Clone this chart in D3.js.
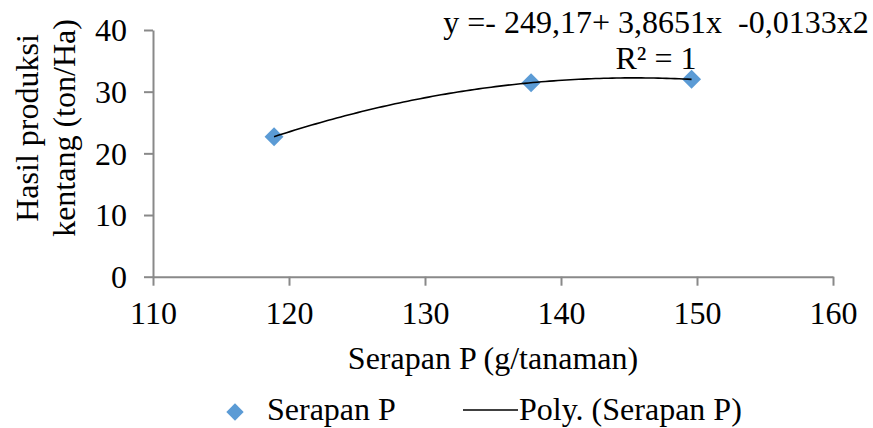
<!DOCTYPE html>
<html>
<head>
<meta charset="utf-8">
<script src="https://cdn.jsdelivr.net/npm/d3@7"></script>
<style>
  html, body { margin: 0; padding: 0; background: #fff; }
</style>
</head>
<body>
<svg id="chart" width="873" height="428" font-family="Liberation Serif"></svg>
<script>
// Serapan P (g/tanaman) vs hasil produksi kentang (ton/Ha)
const serapanP = [118.9, 137.8, 149.6];
const hasil = [22.7, 31.45, 32.0];
const xTicks = [110, 120, 130, 140, 150, 160];
const yTicks = [0, 10, 20, 30, 40];
const equationLines = ['y =- 249,17+ 3,8651x  -0,0133x2', 'R² = 1'];
const legendLabels = ['Serapan P', 'Poly. (Serapan P)'];

const FONT = 'Liberation Serif';
const FS = 32;
const svg = d3.select('#chart');
const axisColor = '#898989';
const pointColor = '#5B9BD5';

const x = d3.scaleLinear().domain([110, 160]).range([153, 833]);
const y = d3.scaleLinear().domain([0, 40]).range([276.7, 30]);

// Axes
const xAxis = svg.append('g')
    .attr('transform', `translate(0,${y(0)})`)
    .call(d3.axisBottom(x).tickValues(xTicks).tickSize(9).tickSizeOuter(0));

const yAxis = svg.append('g')
    .attr('transform', `translate(${x(110)},0)`)
    .call(d3.axisLeft(y).tickValues(yTicks).tickSize(9).tickSizeOuter(0).tickPadding(17));

[xAxis, yAxis].forEach(a => {
    a.attr('font-family', FONT).attr('font-size', FS);
    a.select('.domain').attr('stroke', axisColor).attr('stroke-width', 2);
    a.selectAll('.tick line').attr('stroke', axisColor).attr('stroke-width', 2);
    a.selectAll('.tick text')
        .attr('font-family', FONT)
        .attr('font-size', FS)
        .attr('fill', '#000');
});
yAxis.selectAll('.tick text').attr('dy', '0.34em');
xAxis.selectAll('.tick text').attr('y', 47.3).attr('dy', 0);

// Helper for plain text labels
function label(sel, px, py, str, anchor) {
    return sel.append('text')
        .attr('x', px)
        .attr('y', py)
        .attr('text-anchor', anchor || 'start')
        .attr('font-family', FONT)
        .attr('font-size', FS)
        .attr('fill', '#000')
        .text(str);
}

// Axis titles
label(svg, 493, 369, 'Serapan P (g/tanaman)', 'middle');

const yTitle = svg.append('text')
    .attr('transform', 'translate(38,128) rotate(-90)')
    .attr('text-anchor', 'middle')
    .attr('font-family', FONT)
    .attr('font-size', FS);
yTitle.append('tspan').attr('x', 0).attr('y', 0).text('Hasil produksi');
yTitle.append('tspan').attr('x', 0).attr('y', 37).text('kentang (ton/Ha)');

// Polynomial trendline (order 2) fitted to the data
function quadFit(xs, ys) {
    const n = xs.length;
    let s = [0, 0, 0, 0, 0], t = [0, 0, 0];
    for (let i = 0; i < n; i++) {
        for (let k = 0; k < 5; k++) s[k] += Math.pow(xs[i], k);
        for (let k = 0; k < 3; k++) t[k] += ys[i] * Math.pow(xs[i], k);
    }
    const M = [[s[0], s[1], s[2], t[0]], [s[1], s[2], s[3], t[1]], [s[2], s[3], s[4], t[2]]];
    for (let i = 0; i < 3; i++) {
        for (let j = i + 1; j < 3; j++) {
            const f = M[j][i] / M[i][i];
            for (let k = i; k < 4; k++) M[j][k] -= f * M[i][k];
        }
    }
    const c = [0, 0, 0];
    for (let i = 2; i >= 0; i--) {
        let v = M[i][3];
        for (let k = i + 1; k < 3; k++) v -= M[i][k] * c[k];
        c[i] = v / M[i][i];
    }
    return c;
}
const coef = quadFit(serapanP, hasil);
const xMin = d3.min(serapanP), xMax = d3.max(serapanP);
const trend = d3.range(0, 101).map(i => {
    const xv = xMin + (xMax - xMin) * i / 100;
    return [xv, coef[0] + coef[1] * xv + coef[2] * xv * xv];
});

// Points
svg.append('g')
    .selectAll('path')
    .data(serapanP.map((v, i) => [v, hasil[i]]))
    .join('path')
    .attr('d', d3.symbol().type(d3.symbolSquare).size(180))
    .attr('transform', d => `translate(${x(d[0])},${y(d[1])}) rotate(45)`)
    .attr('fill', pointColor);

svg.append('path')
    .datum(trend)
    .attr('fill', 'none')
    .attr('stroke', '#000')
    .attr('stroke-width', 1.6)
    .attr('d', d3.line().x(d => x(d[0])).y(d => y(d[1])));

// Equation label
label(svg, 656, 33, equationLines[0], 'middle').attr('xml:space', 'preserve').style('white-space', 'pre');
label(svg, 656, 69, equationLines[1], 'middle');

// Legend
const legend = svg.append('g');
legend.append('path')
    .attr('d', d3.symbol().type(d3.symbolSquare).size(150))
    .attr('transform', 'translate(235,412) rotate(45)')
    .attr('fill', pointColor);
label(legend, 267, 420, legendLabels[0]);
legend.append('line')
    .attr('x1', 463).attr('x2', 518)
    .attr('y1', 410).attr('y2', 410)
    .attr('stroke', '#000')
    .attr('stroke-width', 1.6);
label(legend, 519, 420, legendLabels[1]);
</script>
</body>
</html>
